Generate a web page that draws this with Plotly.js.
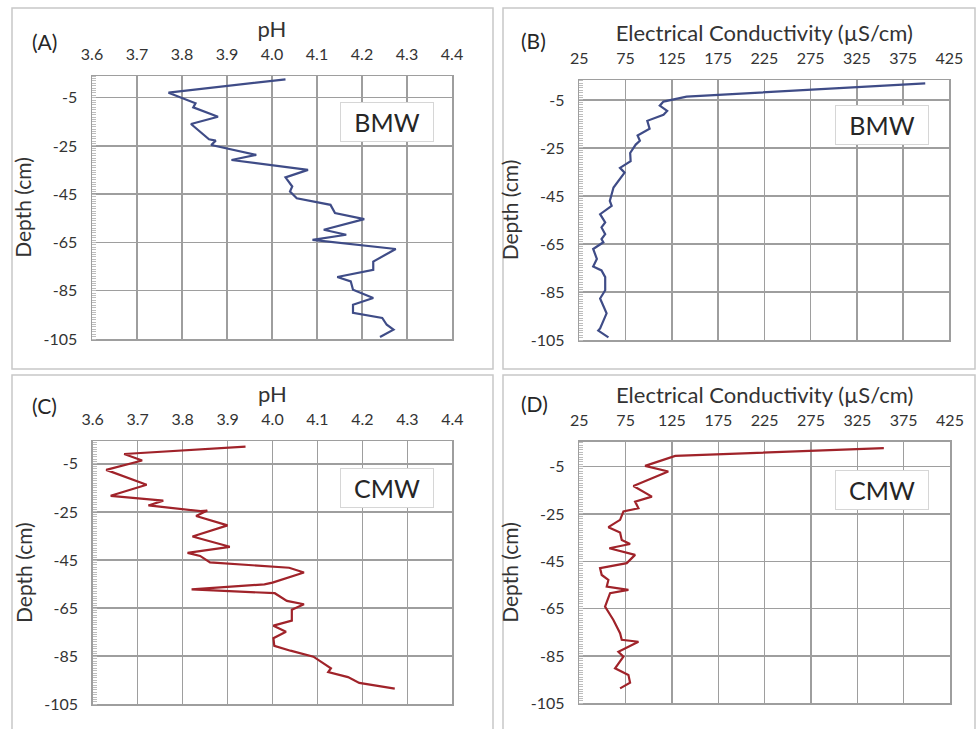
<!DOCTYPE html>
<html>
<head>
<meta charset="utf-8">
<script src="https://cdn.plot.ly/plotly-3.0.1.min.js"></script>
<style>html,body{margin:0;padding:0;background:#fff;}#chart{width:976px;height:729px;}</style>
</head>
<body>
<div id="chart"></div>
<script>
// ---- Data ----
// Panel A: pH, BMW
const depthA = [2.6, -2.9, -7.3, -9.0, -12.9, -15.9, -22.2, -22.8, -24.6, -28.7, -30.8, -34.9, -38.0, -41.8, -43.9, -46.7, -49.4, -52.8, -55.3, -59.7, -61.8, -63.9, -67.7, -72.9, -76.3, -79.3, -81.1, -84.6, -88.0, -90.8, -94.2, -96.3, -99.1, -101.1, -104.2];
const phA = [4.03, 3.77, 3.83, 3.825, 3.88, 3.82, 3.86, 3.875, 3.865, 3.965, 3.91, 4.08, 4.03, 4.045, 4.04, 4.055, 4.13, 4.14, 4.205, 4.115, 4.165, 4.09, 4.275, 4.225, 4.225, 4.145, 4.175, 4.18, 4.225, 4.18, 4.18, 4.245, 4.255, 4.27, 4.24];
// Panel B: EC, BMW
const depthB = [1.9, -3.6, -5.7, -7.4, -9.6, -11.2, -13.7, -17.0, -19.8, -22.0, -23.6, -27.1, -30.5, -33.3, -35.3, -41.5, -47.1, -49.1, -52.6, -56.0, -58.1, -60.9, -63.0, -64.3, -67.1, -71.2, -74.4, -76.0, -78.8, -84.3, -87.7, -93.9, -100.2, -101.1, -103.9];
const ecB = [399, 141, 116, 112, 120, 116, 98.5, 101, 88, 90.5, 86, 80, 80.5, 69, 74, 62, 58, 60, 47.5, 53, 49, 53, 49, 51, 40, 44, 40, 49, 53, 53, 47.5, 54.5, 47.5, 45.5, 56.5];
// Panel C: pH, CMW
const depthC = [2.2, -0.9, -3.6, -7.5, -13.7, -18.3, -20.3, -22.3, -24.7, -24.4, -26.7, -30.6, -35.2, -39.5, -42.0, -43.3, -46.0, -48.2, -50.2, -54.4, -55.1, -57.2, -58.8, -62.0, -63.4, -65.7, -70.2, -72.3, -74.8, -77.5, -80.7, -82.7, -85.2, -90.0, -91.6, -93.7, -96.1, -98.5];
const phC = [3.94, 3.67, 3.71, 3.63, 3.72, 3.64, 3.757, 3.724, 3.84, 3.855, 3.83, 3.90, 3.822, 3.905, 3.811, 3.839, 3.861, 4.037, 4.07, 4.0, 3.982, 3.82, 4.005, 4.032, 4.07, 4.043, 4.043, 4.002, 4.03, 4.002, 4.004, 4.04, 4.091, 4.13, 4.124, 4.168, 4.193, 4.272];
// Panel D: EC, CMW
const depthD = [2.8, -0.5, -4.7, -7.1, -13.2, -17.7, -19.8, -22.6, -24.0, -27.5, -30.6, -32.9, -36.0, -37.7, -39.5, -42.3, -45.8, -47.9, -50.8, -52.9, -55.7, -57.1, -58.5, -64.2, -69.8, -75.4, -78.2, -79.0, -83.2, -85.3, -90.2, -93.0, -96.3, -98.7];
const ecD = [353.6, 128.5, 96, 121, 83.4, 103.3, 85.2, 88.8, 72.6, 69, 56.4, 69, 70.8, 79.8, 57.4, 85.2, 76.2, 47.4, 49.2, 56.4, 54.6, 78, 58.2, 52.8, 61.8, 69, 70.8, 88.8, 67.2, 72.6, 63.6, 78, 79.8, 69];

// Tick labels
const depthTickVals = [-105, -85, -65, -45, -25, -5];
const depthTickText = ["-105", "-85", "-65", "-45", "-25", "-5"];
const panelLetters = ["(A)", "(B)", "(C)", "(D)"];
const siteLabels = ["BMW", "BMW", "CMW", "CMW"];
const phTitle = "pH";
const ecTitle = "Electrical Conductivity (\u00b5S/cm)";
const depthTitle = "Depth (cm)";

// ---- Layout helpers ----
const W = 976, H = 729;
const px = v => v / W;
const py = v => 1 - v / H;
const FONT = 'Lato, "Open Sans", sans-serif';
const TXT = '#333333';
const GRID = '#9e9e9e';
const BLUE = '#3f4c87';
const RED = '#a0232a';

function xAxis(x0, x1, yref, range, dtick, fmt, title) {
  return {
    domain: [px(x0), px(x1)], anchor: yref, side: 'top', range: range,
    tickmode: 'linear', tick0: range[0], dtick: dtick, tickformat: fmt,
    showgrid: true, gridcolor: GRID, gridwidth: 1.5,
    showline: true, mirror: true, linecolor: GRID, linewidth: 1.5,
    zeroline: false, ticks: '', ticklabelstandoff: 8,
    tickfont: {family: FONT, size: 16, color: TXT},
    title: {text: title, font: {family: FONT, size: 22, color: TXT}, standoff: 0},
    fixedrange: true
  };
}
function yAxis(y0, y1, xref, top) {
  return {
    domain: [py(y1), py(y0)], anchor: xref, range: [-105, top],
    tickmode: 'array', tickvals: depthTickVals, ticktext: depthTickText,
    showgrid: true, gridcolor: GRID, gridwidth: 1.5,
    showline: true, mirror: true, linecolor: GRID, linewidth: 1.5,
    zeroline: false, ticks: '', ticklabelstandoff: 10,
    minor: {tickmode: 'linear', tick0: -105, dtick: 1, ticks: 'inside', ticklen: 4, tickcolor: '#bdbdbd', tickwidth: 1, showgrid: false},
    tickfont: {family: FONT, size: 16, color: TXT},
    title: {text: depthTitle, font: {family: FONT, size: 21, color: TXT}, standoff: 6},
    fixedrange: true
  };
}

const traces = [
  {x: phA, y: depthA, xaxis: 'x', yaxis: 'y', mode: 'lines', line: {color: BLUE, width: 2.2}},
  {x: ecB, y: depthB, xaxis: 'x2', yaxis: 'y2', mode: 'lines', line: {color: BLUE, width: 2.2}},
  {x: phC, y: depthC, xaxis: 'x3', yaxis: 'y3', mode: 'lines', line: {color: RED, width: 2.2}},
  {x: ecD, y: depthD, xaxis: 'x4', yaxis: 'y4', mode: 'lines', line: {color: RED, width: 2.2}}
];

const boxes = [[12, 8, 493, 369], [503, 8, 975, 369], [12, 375, 493, 740], [503, 375, 975, 740]];
const shapes = boxes.map(b => ({
  type: 'rect', xref: 'paper', yref: 'paper', x0: px(b[0]), x1: px(b[2]), y0: py(b[3]), y1: py(b[1]),
  line: {color: '#c8c8c8', width: 1.5}, layer: 'below'
}));

const letterPos = [[44, 41], [533, 40], [44, 405], [534, 404]];
const sitePos = [[386.5, 122], [881.5, 125], [386.5, 488], [881.5, 489.5]];
const annotations = [];
panelLetters.forEach((t, i) => annotations.push({
  text: t, xref: 'paper', yref: 'paper', x: px(letterPos[i][0]), y: py(letterPos[i][1]),
  xanchor: 'center', yanchor: 'middle', showarrow: false,
  font: {family: FONT, size: 21, color: '#262626'}
}));
siteLabels.forEach((t, i) => annotations.push({
  text: t, xref: 'paper', yref: 'paper', x: px(sitePos[i][0]), y: py(sitePos[i][1]),
  xanchor: 'center', yanchor: 'middle', showarrow: false, width: 90, height: 36,
  bgcolor: '#ffffff', bordercolor: '#d6d6d6', borderwidth: 1, borderpad: 1,
  font: {family: FONT, size: 25, color: '#262626'}
}));

const layout = {
  width: W, height: H, margin: {l: 0, r: 0, t: 0, b: 0},
  paper_bgcolor: '#ffffff', plot_bgcolor: '#ffffff', showlegend: false,
  font: {family: FONT, color: TXT},
  xaxis: xAxis(92, 452, 'y', [3.6, 4.4], 0.1, '.1f', phTitle),
  yaxis: yAxis(76, 339, 'x', 4),
  xaxis2: xAxis(579.3, 949.3, 'y2', [25, 425], 50, 'd', ecTitle),
  yaxis2: yAxis(80, 340, 'x2', 3.3),
  xaxis3: xAxis(92.7, 452.3, 'y3', [3.6, 4.4], 0.1, '.1f', phTitle),
  yaxis3: yAxis(441, 704.3, 'x3', 4.5),
  xaxis4: xAxis(579.3, 950, 'y4', [25, 425], 50, 'd', ecTitle),
  yaxis4: yAxis(441.7, 703.3, 'x4', 5.5),
  shapes: shapes, annotations: annotations
};

Plotly.newPlot('chart', traces, layout, {displayModeBar: false, staticPlot: true});
</script>
</body>
</html>
